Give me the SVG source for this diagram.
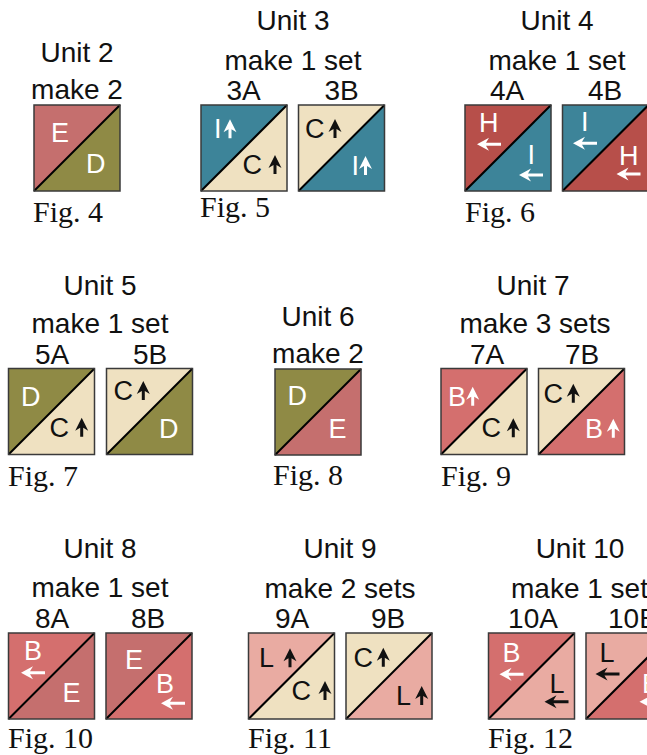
<svg xmlns="http://www.w3.org/2000/svg" xmlns:xlink="http://www.w3.org/1999/xlink" width="647" height="755" viewBox="0 0 647 755">
<style>
.t{font-family:"Liberation Sans",Arial,sans-serif;font-size:28px;fill:#111;text-anchor:middle}
.ts{font-family:"Liberation Sans",Arial,sans-serif;font-size:28px;fill:#111}
.fig{font-family:"Liberation Serif","Times New Roman",serif;font-size:30px;fill:#111}
.l{font-family:"Liberation Sans",Arial,sans-serif;font-size:27px}
.w{fill:#fff}
.k{fill:#111}
.bd{fill:none;stroke:#3a3a3a;stroke-width:1.5}
.dg{stroke:#000;stroke-width:2}
.E{fill:#c56f6e}
.D{fill:#8f8a45}
.I{fill:#3d8499}
.C{fill:#efe1c1}
.H{fill:#b74f4a}
.B{fill:#d46f6e}
.L{fill:#e9aba2}
</style>
<defs>
<path id="up" d="M0,-19 L6.5,-6 L1.5,-9 L1.5,0 L-1.5,0 L-1.5,-9 L-6.5,-6 Z"/>
<path id="lf" d="M0,0 L12,-6.5 L9,-1.5 L24,-1.5 L24,1.5 L9,1.5 L12,6.5 Z"/>
<polygon id="ul" points="0,0 86,0 0,86"/>
<polygon id="lr" points="86,0 86,86 0,86"/>
<g id="frame"><line class="dg" x1="0" y1="86" x2="86" y2="0"/><rect class="bd" x="0" y="0" width="86" height="86"/></g>
</defs>

<g id="labels">
<text class="t" x="77" y="62">Unit 2</text>
<text class="t" x="77" y="99">make 2</text>
<text class="t" x="293" y="30">Unit 3</text>
<text class="t" x="293" y="70">make 1 set</text>
<text class="t" x="243.5" y="100">3A</text>
<text class="t" x="341.5" y="100">3B</text>
<text class="t" x="557" y="30">Unit 4</text>
<text class="t" x="557" y="70">make 1 set</text>
<text class="t" x="507" y="100">4A</text>
<text class="t" x="605" y="100">4B</text>
<text class="t" x="100" y="295">Unit 5</text>
<text class="t" x="100" y="333">make 1 set</text>
<text class="t" x="52" y="364">5A</text>
<text class="t" x="150" y="364">5B</text>
<text class="t" x="318" y="326">Unit 6</text>
<text class="t" x="318" y="363">make 2</text>
<text class="t" x="533" y="295">Unit 7</text>
<text class="t" x="535" y="333">make 3 sets</text>
<text class="t" x="487" y="364">7A</text>
<text class="t" x="582" y="364">7B</text>
<text class="t" x="100" y="558">Unit 8</text>
<text class="t" x="100" y="597">make 1 set</text>
<text class="t" x="52" y="628">8A</text>
<text class="t" x="148" y="628">8B</text>
<text class="t" x="340" y="558">Unit 9</text>
<text class="t" x="340" y="598">make 2 sets</text>
<text class="t" x="292" y="628">9A</text>
<text class="t" x="388" y="628">9B</text>
<text class="t" x="580" y="558">Unit 10</text>
<text class="ts" x="511" y="598">make 1 set</text>
<text class="t" x="533" y="628">10A</text>
<text class="ts" x="608" y="628">10B</text>
<text class="fig" x="33" y="222">Fig. 4</text>
<text class="fig" x="200" y="217">Fig. 5</text>
<text class="fig" x="465" y="222">Fig. 6</text>
<text class="fig" x="8" y="486">Fig. 7</text>
<text class="fig" x="273" y="485">Fig. 8</text>
<text class="fig" x="441" y="486">Fig. 9</text>
<text class="fig" x="8" y="748">Fig. 10</text>
<text class="fig" x="248" y="748">Fig. 11</text>
<text class="fig" x="488" y="748">Fig. 12</text>
</g>

<g id="fig4" transform="translate(34,105)">
<use href="#ul" class="E"/><use href="#lr" class="D"/><use href="#frame"/>
<text class="l w" x="17" y="36.7">E</text><text class="l w" x="52" y="68.3">D</text>
</g>
<g id="u3a" transform="translate(201,105)">
<use href="#ul" class="I"/><use href="#lr" class="C"/><use href="#frame"/>
<text class="l w" x="13" y="33.3">I</text><use href="#up" class="w" x="29" y="33.3"/>
<text class="l k" x="41.5" y="69">C</text><use href="#up" class="k" x="74" y="69"/>
</g>
<g id="u3b" transform="translate(298.5,105)">
<use href="#ul" class="C"/><use href="#lr" class="I"/><use href="#frame"/>
<text class="l k" x="6.5" y="33">C</text><use href="#up" class="k" x="36.5" y="33"/>
<text class="l w" x="53" y="70">I</text><use href="#up" class="w" x="67" y="70"/>
</g>
<g id="u4a" transform="translate(465,105)">
<use href="#ul" class="H"/><use href="#lr" class="I"/><use href="#frame"/>
<text class="l w" x="14" y="26.7">H</text><use href="#lf" class="w" x="12" y="39.3"/>
<text class="l w" x="62.5" y="59.3">I</text><use href="#lf" class="w" x="54" y="70"/>
</g>
<g id="u4b" transform="translate(562.5,105)">
<use href="#ul" class="I"/><use href="#lr" class="H"/><use href="#frame"/>
<text class="l w" x="18.5" y="26">I</text><use href="#lf" class="w" x="10.5" y="38.3"/>
<text class="l w" x="56.5" y="60">H</text><use href="#lf" class="w" x="54" y="69"/>
</g>

<g id="u5a" transform="translate(8.5,368.5)">
<use href="#ul" class="D"/><use href="#lr" class="C"/><use href="#frame"/>
<text class="l w" x="12.5" y="37.2">D</text>
<text class="l k" x="41" y="68.2">C</text><use href="#up" class="k" x="73.2" y="68.2"/>
</g>
<g id="u5b" transform="translate(106.5,368.5)">
<use href="#ul" class="C"/><use href="#lr" class="D"/><use href="#frame"/>
<text class="l k" x="7" y="31.5">C</text><use href="#up" class="k" x="36.8" y="31.5"/>
<text class="l w" x="52.5" y="69.8">D</text>
</g>
<g id="fig8" transform="translate(275,369)">
<use href="#ul" class="D"/><use href="#lr" class="E"/><use href="#frame"/>
<text class="l w" x="12.5" y="36">D</text><text class="l w" x="53.5" y="68.7">E</text>
</g>
<g id="u7a" transform="translate(441,368.5)">
<use href="#ul" class="B"/><use href="#lr" class="C"/><use href="#frame"/>
<text class="l w" x="7" y="37.2">B</text><use href="#up" class="w" x="31.7" y="37.2"/>
<text class="l k" x="40.5" y="68.8">C</text><use href="#up" class="k" x="72.3" y="68.8"/>
</g>
<g id="u7b" transform="translate(538.5,368.5)">
<use href="#ul" class="C"/><use href="#lr" class="B"/><use href="#frame"/>
<text class="l k" x="5" y="34.2">C</text><use href="#up" class="k" x="34.8" y="34.2"/>
<text class="l w" x="46.5" y="69.2">B</text><use href="#up" class="w" x="74.8" y="69.2"/>
</g>

<g id="u8a" transform="translate(8.5,633)">
<use href="#ul" class="B"/><use href="#lr" class="E"/><use href="#frame"/>
<text class="l w" x="15.5" y="27">B</text><use href="#lf" class="w" x="12.5" y="39.7"/>
<text class="l w" x="54" y="68.7">E</text>
</g>
<g id="u8b" transform="translate(106,633)">
<use href="#ul" class="E"/><use href="#lr" class="B"/><use href="#frame"/>
<text class="l w" x="19" y="36.3">E</text>
<text class="l w" x="50" y="59.7">B</text><use href="#lf" class="w" x="55" y="70.3"/>
</g>
<g id="u9a" transform="translate(248.5,633)">
<use href="#ul" class="L"/><use href="#lr" class="C"/><use href="#frame"/>
<text class="l k" x="10.5" y="34.3">L</text><use href="#up" class="k" x="41.5" y="34.3"/>
<text class="l k" x="43" y="67">C</text><use href="#up" class="k" x="76.5" y="67"/>
</g>
<g id="u9b" transform="translate(346,633)">
<use href="#ul" class="C"/><use href="#lr" class="L"/><use href="#frame"/>
<text class="l k" x="7.5" y="33.7">C</text><use href="#up" class="k" x="37.3" y="33.7"/>
<text class="l k" x="50" y="72">L</text><use href="#up" class="k" x="75.7" y="72"/>
</g>
<g id="u10a" transform="translate(488.5,633)">
<use href="#ul" class="B"/><use href="#lr" class="L"/><use href="#frame"/>
<text class="l w" x="14" y="28.7">B</text><use href="#lf" class="w" x="11" y="41.3"/>
<text class="l k" x="61" y="60.3">L</text><use href="#lf" class="k" x="56" y="68.7"/>
</g>
<g id="u10b" transform="translate(586,633)">
<use href="#ul" class="L"/><use href="#lr" class="B"/><use href="#frame"/>
<text class="l k" x="13.5" y="28.7">L</text><use href="#lf" class="k" x="9.5" y="41"/>
<text class="l w" x="56" y="60">B</text><use href="#lf" class="w" x="53.5" y="68.7"/>
</g>
</svg>
